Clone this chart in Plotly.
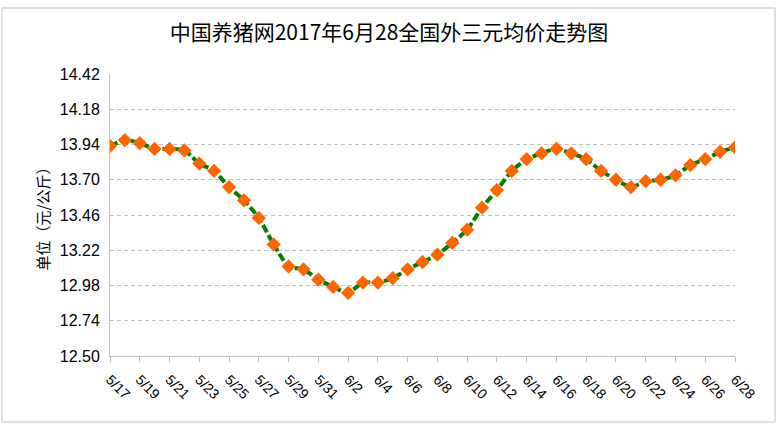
import plotly.graph_objects as go

dates = ["5/17","5/18","5/19","5/20","5/21","5/22","5/23","5/24","5/25","5/26",
         "5/27","5/28","5/29","5/30","5/31","6/1","6/2","6/3","6/4","6/5",
         "6/6","6/7","6/8","6/9","6/10","6/11","6/12","6/13","6/14","6/15",
         "6/16","6/17","6/18","6/19","6/20","6/21","6/22","6/23","6/24","6/25",
         "6/26","6/27","6/28"]
prices = [13.93,13.97,13.95,13.91,13.91,13.90,13.81,13.76,13.65,13.56,
          13.44,13.26,13.11,13.09,13.02,12.97,12.93,13.00,13.00,13.03,
          13.09,13.14,13.19,13.27,13.36,13.51,13.63,13.76,13.84,13.88,
          13.91,13.88,13.84,13.76,13.70,13.65,13.69,13.70,13.73,13.80,
          13.84,13.89,13.92]
y_ticks = [12.50,12.74,12.98,13.22,13.46,13.70,13.94,14.18,14.42]

title = "中国养猪网2017年6月28全国外三元均价走势图"
y_title = "单位（元/公斤）"

W, H = 778, 425
L, R, T, B = 110, 43, 74, 69

xs = list(range(len(dates)))
tick_idx = xs[::2]

fig = go.Figure()
fig.add_trace(go.Scatter(
    x=xs, y=prices, mode="lines+markers",
    line=dict(color="#008000", width=4, dash="8px,3px", shape="spline", smoothing=0.6),
    marker=dict(symbol="diamond", size=11, color="#FF6600", line=dict(width=0)),
    hoverinfo="skip", showlegend=False,
))

fig.update_layout(
    width=W, height=H,
    margin=dict(l=L, r=R, t=T, b=B),
    paper_bgcolor="white", plot_bgcolor="white",
    title=dict(text=title, x=0.5, xanchor="center", y=1 - 33 / H, yanchor="middle",
               font=dict(family="Noto Sans CJK SC", size=21, color="black")),
    font=dict(family="Noto Sans CJK SC", color="black"),
)
fig.update_xaxes(
    range=[0, len(dates) - 1], tickvals=tick_idx,
    ticktext=[dates[i] for i in tick_idx], tickangle=45,
    showgrid=False, zeroline=False,
    showline=True, linecolor="#BFBFBF", linewidth=1,
    ticks="outside", ticklen=5, tickcolor="#BFBFBF",
    ticklabelstandoff=4,
    tickfont=dict(family="Liberation Sans", size=14, color="black"),
)
fig.update_yaxes(
    range=[y_ticks[0], y_ticks[-1]], tickvals=y_ticks,
    ticktext=[f"{v:.2f}" for v in y_ticks],
    showgrid=True, gridcolor="#BFBFBF", griddash="4px,3px", gridwidth=1,
    zeroline=False, showline=True, linecolor="#BFBFBF", linewidth=1,
    ticks="", ticklabelstandoff=6,
    tickfont=dict(family="Liberation Sans", size=16, color="black"),
    title=dict(text=y_title, standoff=6,
               font=dict(family="Noto Sans CJK SC", size=15, color="black")),
)

# chart border
fig.add_shape(type="rect", xref="paper", yref="paper",
              x0=(2 - L) / (W - L - R), x1=(W - 3 - L) / (W - L - R),
              y0=-(H - 3 - (H - B)) / (H - T - B), y1=(H - 3 - T) / (H - T - B),
              line=dict(color="#BFBFBF", width=1), layer="below")

fig.write_html("out.html")
